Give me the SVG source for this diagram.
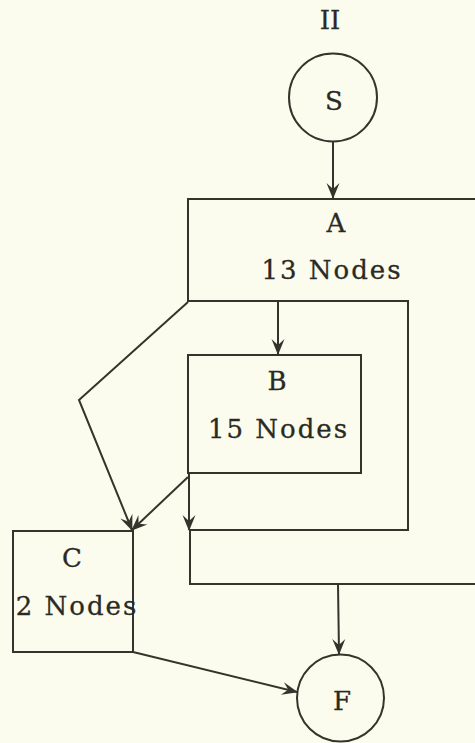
<svg xmlns="http://www.w3.org/2000/svg" width="475" height="743" viewBox="0 0 475 743">
  <defs>
    <style>
      .ln { fill: none; stroke: #34342c; stroke-width: 2; stroke-linejoin: miter; }
      .lbl { font-family: "DejaVu Serif", "Liberation Serif", serif; font-size: 26px; fill: #2a2a24; stroke: #2a2a24; stroke-width: 0.3; text-anchor: middle; }
      .wide { letter-spacing: 2px; }
    </style>
    <marker id="arrow" viewBox="-16 -8 18 16" markerWidth="18" markerHeight="16" refX="0" refY="0" orient="auto" markerUnits="userSpaceOnUse">
      <path d="M1,0 L-15,-6.5 L-9,0 L-15,6.5 Z" fill="#34342c"/>
    </marker>
  </defs>

  <rect width="475" height="743" fill="#fcfcee"/>

  <!-- title -->
  <text class="lbl" x="330" y="29" font-size="24">II</text>

  <!-- start node -->
  <g id="node-S">
    <circle class="ln" cx="333" cy="97.5" r="44"/>
    <text class="lbl" x="334" y="110">S</text>
  </g>

  <!-- region A: wraps around B, open to the right edge -->
  <g id="node-A">
    <path class="ln" d="M475,199 L188,199 L188,301 L408,301 L408,530 L190,530 L190,584 L475,584"/>
    <text class="lbl" x="336" y="232">A</text>
    <text class="lbl wide" x="332" y="279">13 Nodes</text>
  </g>

  <!-- region B -->
  <g id="node-B">
    <rect class="ln" x="188" y="355" width="173" height="118"/>
    <text class="lbl" x="277" y="390">B</text>
    <text class="lbl wide" x="278.5" y="438">15 Nodes</text>
  </g>

  <!-- region C -->
  <g id="node-C">
    <rect class="ln" x="13" y="531" width="120" height="121"/>
    <text class="lbl" x="72" y="567">C</text>
    <text class="lbl wide" x="77" y="615">2 Nodes</text>
  </g>

  <!-- final node -->
  <g id="node-F">
    <circle class="ln" cx="340.5" cy="698" r="43.5"/>
    <text class="lbl" x="342" y="710">F</text>
  </g>

  <!-- connectors -->
  <g id="connectors">
    <path class="ln" d="M333,141.5 L333,198" marker-end="url(#arrow)"/>
    <path class="ln" d="M278,301 L278,354" marker-end="url(#arrow)"/>
    <path class="ln" d="M188,302 L79,400 L132,530" marker-end="url(#arrow)"/>
    <path class="ln" d="M188,477 L132,530" marker-end="url(#arrow)"/>
    <path class="ln" d="M189,473 L189,530" marker-end="url(#arrow)"/>
    <path class="ln" d="M338,584 L339,654" marker-end="url(#arrow)"/>
    <path class="ln" d="M133,652 L297,692" marker-end="url(#arrow)"/>
  </g>
</svg>
